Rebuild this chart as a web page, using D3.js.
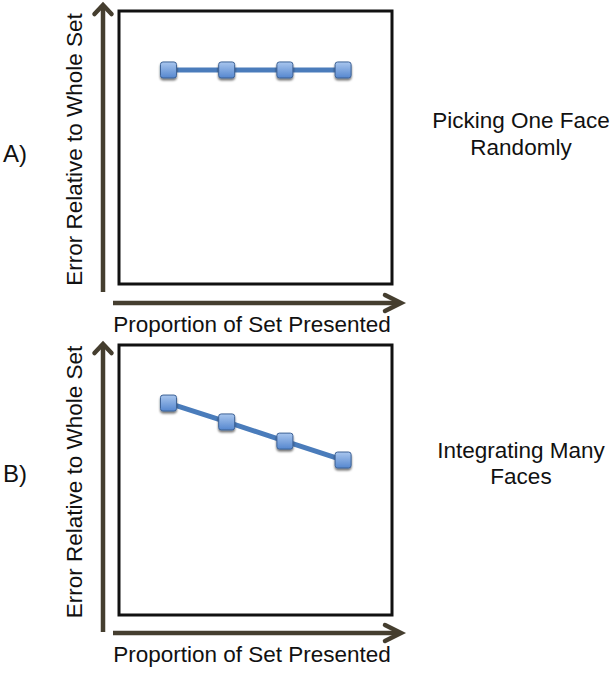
<!DOCTYPE html>
<html><head><meta charset="utf-8">
<script src="https://cdn.jsdelivr.net/npm/d3@7"></script>
<style>body{margin:0;background:#fff}svg{display:block}</style>
</head><body>
<script>
// Data
const xValues = [1, 2, 3, 4];                    // proportion steps (unlabeled)
const errorRandom = [7.84, 7.84, 7.84, 7.84];    // A) picking one face randomly
const errorIntegrate = [7.85, 7.15, 6.44, 5.74]; // B) integrating many faces
const panelLetters = ["A)", "B)"];
const panelTitles = [["Picking One Face", "Randomly"], ["Integrating Many", "Faces"]];
const xLabel = "Proportion of Set Presented";
const yLabel = "Error Relative to Whole Set";

const W = 615, H = 674;
const svg = d3.select("body").append("svg").attr("width", W).attr("height", H);
const font = "Liberation Sans, Arial, Helvetica, sans-serif";
const arrowCol = "#453e2f";
const fs = 22.5;

const defs = svg.append("defs");
const grad = defs.append("linearGradient").attr("id", "mg").attr("x1", 0).attr("y1", 0).attr("x2", 0).attr("y2", 1);
grad.append("stop").attr("offset", "0%").attr("stop-color", "#a9c6ee");
grad.append("stop").attr("offset", "100%").attr("stop-color", "#5587cf");
const flt = defs.append("filter").attr("id", "sh").attr("x", "-50%").attr("y", "-50%").attr("width", "200%").attr("height", "200%");
flt.append("feDropShadow").attr("dx", 0).attr("dy", 2).attr("stdDeviation", 1.2).attr("flood-color", "#000").attr("flood-opacity", 0.55);

// layout per panel
const panels = [
  {top: 11, h: 273, tip: 3, yArrBot: 292, xArrY: 303, letterY: 162, titleY: [128, 155], data: errorRandom},
  {top: 345, h: 270, tip: 342, yArrBot: 632, xArrY: 633, letterY: 482, titleY: [458, 484], data: errorIntegrate}
];
const boxL = 119, boxR = 392;

panels.forEach((p, i) => {
  const g = svg.append("g");
  const bTop = p.top, bBot = p.top + p.h;
  const x = d3.scaleLinear().domain([0.15, 4.84]).range([boxL, boxR]);
  const y = d3.scaleLinear().domain([0, 10]).range([bBot, bTop]);

  // frame
  g.append("rect").attr("x", boxL).attr("y", bTop).attr("width", boxR - boxL).attr("height", p.h)
    .attr("fill", "#fff").attr("stroke", "#111").attr("stroke-width", 3);

  // y arrow
  const ax = 103, yTip = p.tip;
  g.append("line").attr("x1", ax).attr("y1", p.yArrBot).attr("x2", ax).attr("y2", yTip + 3)
    .attr("stroke", arrowCol).attr("stroke-width", 4.5);
  g.append("path").attr("d", `M${ax - 8.5},${yTip + 11}L${ax},${yTip + 2}L${ax + 8.5},${yTip + 11}`)
    .attr("fill", "none").attr("stroke", arrowCol).attr("stroke-width", 4.5).attr("stroke-linecap", "round").attr("stroke-linejoin", "miter");

  // x arrow
  const ay = p.xArrY, xTip = 403;
  g.append("line").attr("x1", 113).attr("y1", ay).attr("x2", xTip - 3).attr("y2", ay)
    .attr("stroke", arrowCol).attr("stroke-width", 4.5);
  g.append("path").attr("d", `M${xTip - 18},${ay - 8}L${xTip - 2},${ay}L${xTip - 18},${ay + 8}`)
    .attr("fill", "none").attr("stroke", arrowCol).attr("stroke-width", 4.5).attr("stroke-linecap", "round").attr("stroke-linejoin", "miter");

  // labels
  g.append("text").attr("x", 252).attr("y", ay + 29).attr("text-anchor", "middle")
    .attr("font-family", font).attr("font-size", fs).attr("fill", "#111").text(xLabel);
  g.append("text").attr("transform", `translate(82,${bTop + p.h / 2 + 2}) rotate(-90)`).attr("text-anchor", "middle")
    .attr("font-family", font).attr("font-size", fs).attr("fill", "#111").text(yLabel);
  g.append("text").attr("x", 3).attr("y", p.letterY).attr("font-family", font).attr("font-size", 24).attr("fill", "#111").text(panelLetters[i]);
  panelTitles[i].forEach((t, k) => {
    g.append("text").attr("x", 521).attr("y", p.titleY[k]).attr("text-anchor", "middle")
      .attr("font-family", font).attr("font-size", fs).attr("fill", "#111").text(t);
  });

  // line
  const pts = xValues.map((v, k) => [v, p.data[k]]);
  g.append("path").datum(pts)
    .attr("d", d3.line().x(d => x(d[0])).y(d => y(d[1])))
    .attr("fill", "none").attr("stroke", "#4a7cbb").attr("stroke-width", 5);
  g.selectAll("rect.m").data(pts).join("rect").attr("class", "m")
    .attr("x", d => x(d[0]) - 8).attr("y", d => y(d[1]) - 8).attr("width", 16).attr("height", 16)
    .attr("rx", 2.5).attr("fill", "url(#mg)").attr("stroke", "#3d6296").attr("stroke-width", 1)
    .attr("filter", "url(#sh)");
});
</script>
</body></html>
